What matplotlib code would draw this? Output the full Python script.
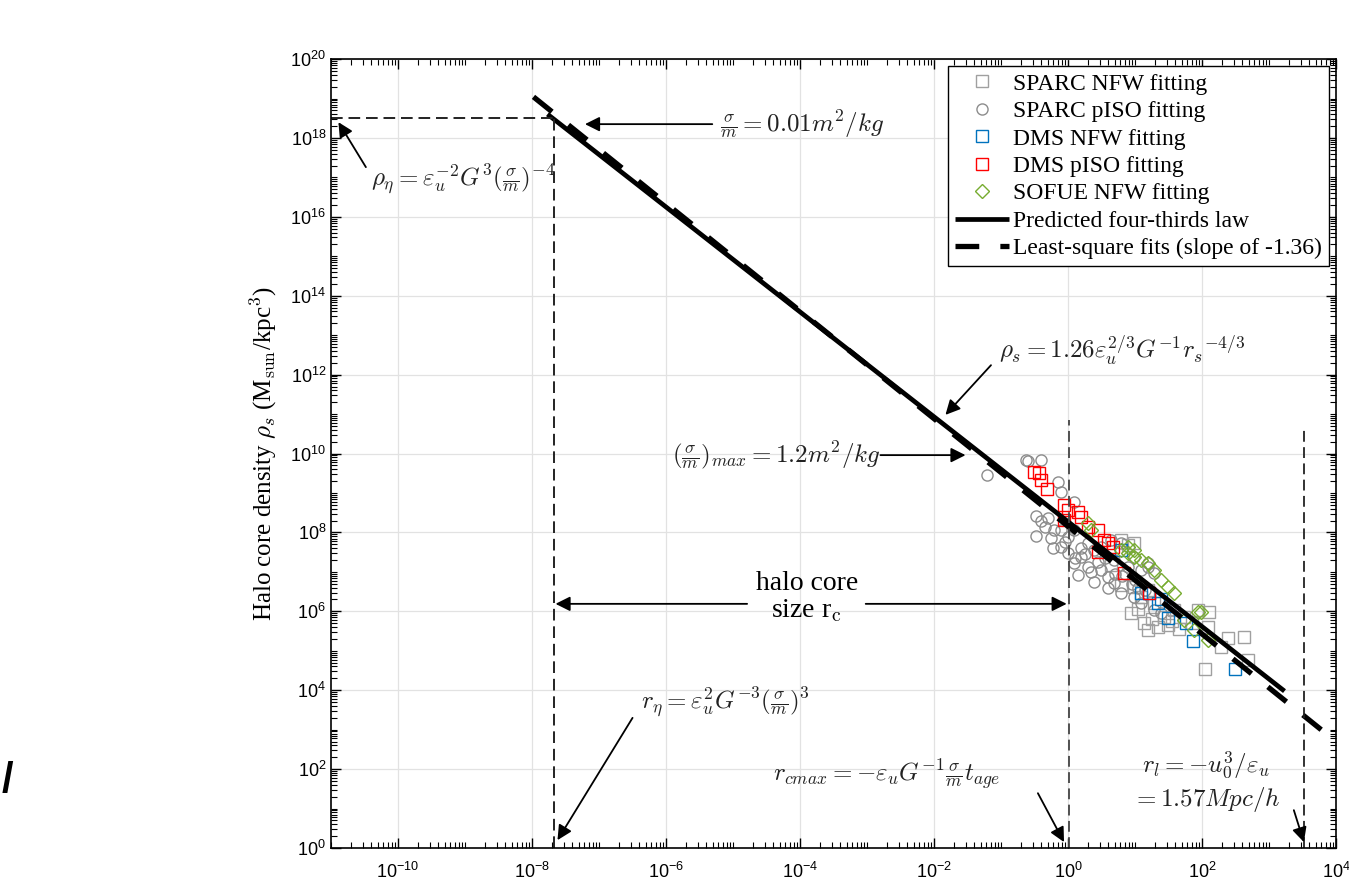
import numpy as np
import matplotlib.pyplot as plt
from matplotlib.ticker import LogLocator, FixedLocator, NullFormatter

plt.rcParams['font.family'] = ['Liberation Sans', 'DejaVu Sans']
plt.rcParams['mathtext.fontset'] = 'cm'
plt.rcParams['axes.unicode_minus'] = False

# data (log10 of r_s in kpc, log10 of rho_s in Msun/kpc^3)
sparc_piso_lr = [-0.63, -0.41, -0.60, -1.21, -0.15, -0.11, 0.09, -0.48, -0.30, -0.21,
                 -0.48, -0.23, -0.11, 0.00, 0.15, 0.39, 0.09, 0.30, 0.49, 0.59,
                 0.68, 0.79, 0.98, 0.49, 0.68, 0.89, 1.09, 1.19, 1.28, 0.98,
                 1.19, 0.64, 0.79, 1.09, 1.28, 1.39, 0.19, 0.30, 0.39, 0.00,
                 0.09, -0.11, -0.40, -0.35, -0.25, -0.05, 0.25, 0.55, 0.85, 1.00,
                 0.20, 0.45, 0.70, 0.95, 1.15, 0.35, 0.60, 0.80, 1.05, 0.10]
sparc_piso_lrho = [9.84, 9.84, 9.81, 9.46, 9.28, 9.02, 8.77, 8.42, 8.37, 8.06,
                   7.91, 7.60, 7.63, 7.48, 6.92, 6.74, 7.22, 7.12, 7.05, 6.87,
                   6.72, 6.46, 6.36, 7.63, 7.30, 7.12, 7.05, 7.12, 6.97, 7.38,
                   7.22, 7.81, 7.73, 6.21, 6.03, 5.96, 7.38, 7.73, 7.55, 7.88,
                   8.06, 8.06, 8.30, 8.15, 7.85, 7.75, 7.45, 7.35, 6.95, 6.80,
                   7.60, 7.25, 6.95, 6.70, 6.55, 7.00, 6.60, 6.90, 6.60, 7.35]

sparc_nfw_lr = [0.98, 0.94, 1.13, 1.19, 1.34, 1.49, 2.10, 1.94, 2.09, 2.28,
                2.39, 2.04, 2.68, 0.79, 0.89, 1.09, 1.28, 1.43, 1.58, 1.73,
                0.98, 1.19, 2.63, 0.79, 0.64, 1.05, 1.25, 1.55, 1.65, 1.85]
sparc_nfw_lrho = [7.73, 5.96, 5.70, 5.53, 5.60, 5.65, 5.98, 6.03, 5.60, 5.10,
                  5.32, 4.54, 4.77, 7.81, 7.68, 6.36, 6.21, 5.86, 6.03, 5.86,
                  6.62, 6.54, 5.35, 6.67, 7.17, 6.05, 5.80, 5.75, 5.55, 5.70]

dms_nfw_lr = [1.09, 1.34, 1.49, 1.76, 1.87, 2.49, 1.21, 0.79, 1.39]
dms_nfw_lrho = [6.46, 6.21, 5.83, 5.70, 5.25, 4.54, 6.46, 7.55, 6.31]

dms_piso_lr = [-0.51, -0.44, -0.41, -0.32, -0.06, 0.00, 0.15, 0.19, -0.06, 0.30,
               0.45, 0.54, 0.67, 0.45, 0.83, 1.21, 0.59]
dms_piso_lrho = [9.53, 9.51, 9.33, 9.10, 8.69, 8.57, 8.52, 8.39, 8.31, 8.14,
                 8.06, 7.81, 7.63, 7.50, 6.97, 6.46, 7.73]

sofue_lr = [0.30, 0.34, 0.79, 0.89, 0.98, 1.09, 1.19, 1.28, 1.39, 1.49,
            1.58, 1.73, 1.94, 1.99, 2.09, 1.88, 0.89, 0.98]
sofue_lrho = [8.24, 8.06, 7.55, 7.48, 7.38, 7.30, 7.22, 7.05, 6.79, 6.62,
              6.46, 5.78, 5.98, 5.98, 5.27, 5.53, 7.63, 7.55]

# line end points
law_r = [1.7e-8, 1.7e3]
law_rho = [4.0e18, 9.5e3]
fit_r = [1.05e-8, 6.0e3]
fit_rho = [1.1e19, 1.0e3]

r_eta, rho_eta = 2.1e-8, 3.2e18
r_cmax, r_l = 1.02, 3.3e3

fig = plt.figure(figsize=(13.49, 8.88), dpi=100)
ax = fig.add_axes([0.2454, 0.0450, 0.7450, 0.8885])

mk = dict(linestyle='none', markerfacecolor='none', markersize=8, markeredgewidth=1.0)
ax.plot(10**np.array(sparc_nfw_lr), 10**np.array(sparc_nfw_lrho), 's', color='#a0a0a0',
        label='SPARC NFW fitting', **mk)
ax.plot(10**np.array(sparc_piso_lr), 10**np.array(sparc_piso_lrho), 'o', color='#8c8c8c',
        label='SPARC pISO fitting', **mk)
ax.plot(10**np.array(dms_nfw_lr), 10**np.array(dms_nfw_lrho), 's', color='#0072BD',
        label='DMS NFW fitting', **mk)
ax.plot(10**np.array(dms_piso_lr), 10**np.array(dms_piso_lrho), 's', color='#ff0000',
        label='DMS pISO fitting', **mk)
ax.plot(10**np.array(sofue_lr), 10**np.array(sofue_lrho), 'D', color='#77AC30',
        label='SOFUE NFW fitting', linestyle='none', markerfacecolor='none',
        markersize=7, markeredgewidth=1.0)

ax.plot(law_r, law_rho, color='black', lw=3.4, solid_capstyle='butt',
        label='Predicted four-thirds law')
ax.plot(fit_r, fit_rho, color='black', lw=3.8, dashes=(4.5, 4), dash_capstyle='butt',
        label='Least-square fits (slope of -1.36)')

# guide lines
ax.plot([1e-11, r_eta], [rho_eta, rho_eta], color='#222222', lw=1.4, dashes=(6, 3))
ax.plot([r_eta, r_eta], [1, rho_eta], color='#222222', lw=1.4, dashes=(6, 3))
ax.plot([r_cmax, r_cmax], [1, 7e10], color='#444444', lw=1.3, dashes=(6, 3))
ax.plot([r_l, r_l], [1, 5e10], color='#222222', lw=1.3, dashes=(6, 3))

ax.set_xscale('log')
ax.set_yscale('log')
ax.set_xlim(1e-11, 1e4)
ax.set_ylim(1, 1e20)
ax.xaxis.set_major_locator(FixedLocator([10.0**k for k in range(-10, 5, 2)]))
ax.yaxis.set_major_locator(FixedLocator([10.0**k for k in range(0, 21, 2)]))
ax.xaxis.set_minor_locator(LogLocator(base=10, subs=np.arange(1, 10), numticks=100))
ax.yaxis.set_minor_locator(LogLocator(base=10, subs=np.arange(1, 10), numticks=100))
ax.xaxis.set_minor_formatter(NullFormatter())
ax.yaxis.set_minor_formatter(NullFormatter())
ax.tick_params(which='both', direction='in', top=True, right=True, labelsize=13)
ax.tick_params(which='major', length=7, width=1)
ax.tick_params(which='minor', length=4, width=0.8)
ax.tick_params(axis='x', pad=10)
ax.grid(True, which='major', color='#e2e2e2', lw=0.9)
ax.set_axisbelow(True)
for s in ax.spines.values():
    s.set_linewidth(1.2)

ax.set_ylabel(r'Halo core density $\rho_s$ (M$_{\rm sun}$/kpc$^3$)',
              family='Liberation Serif', fontsize=18, labelpad=8)
ax.set_xlabel(r'Halo core radius r$_s$ (kpc)', family='Liberation Serif',
              fontsize=17, labelpad=6, color='#888888')

leg = ax.legend(loc='upper right', prop={'family': 'Liberation Serif', 'size': 17},
                fancybox=False, edgecolor='black', framealpha=1, numpoints=1,
                handlelength=2.3, handletextpad=0.15, labelspacing=0.25,
                borderaxespad=0.3, borderpad=0.3)
leg.get_frame().set_linewidth(1.0)

arw = dict(arrowstyle='-|>', color='black', lw=1.3, mutation_scale=22,
           shrinkA=0, shrinkB=0)
eq = dict(fontsize=18, color='#222222')

ax.annotate('', xy=(10**-10.89, 10**18.40), xytext=(10**-10.48, 10**17.26), arrowprops=arw)
ax.text(10**-10.40, 10**16.93, r'$\rho_\eta = \varepsilon_u^{-2}G^3(\frac{\sigma}{m})^{-4}$',
        ha='left', va='center', **eq)

ax.annotate('', xy=(10**-7.21, 10**18.35), xytext=(10**-5.31, 10**18.35), arrowprops=arw)
ax.text(10**-5.19, 10**18.33, r'$\frac{\sigma}{m} = 0.01m^2/kg$', ha='left', va='center', **eq)

ax.annotate('', xy=(10**-1.83, 10**10.98), xytext=(10**-1.15, 10**12.24), arrowprops=arw)
ax.text(10**-1.03, 10**12.62, r'$\rho_s = 1.26\varepsilon_u^{2/3}G^{-1}{r_s}^{-4/3}$',
        ha='left', va='center', **eq)

ax.annotate('', xy=(10**-1.53, 10**9.96), xytext=(10**-2.80, 10**9.96), arrowprops=arw)
ax.text(10**-2.80, 10**9.96, r'$(\frac{\sigma}{m})_{max} = 1.2m^2/kg$', ha='right',
        va='center', **eq)

ax.annotate('', xy=(10**-7.65, 10**6.19), xytext=(10**-4.79, 10**6.19), arrowprops=arw)
ax.annotate('', xy=(10**-0.02, 10**6.19), xytext=(10**-3.02, 10**6.19), arrowprops=arw)
ax.text(10**-3.90, 10**6.36, 'halo core\nsize r$_\\mathrm{c}$', ha='center', va='center',
        family='Liberation Serif', fontsize=20, linespacing=1.05)

ax.annotate('', xy=(10**-7.62, 10**0.20), xytext=(10**-6.50, 10**3.30), arrowprops=arw)
ax.text(10**-6.38, 10**3.68, r'$r_\eta = \varepsilon_u^2G^{-3}(\frac{\sigma}{m})^3$',
        ha='left', va='center', **eq)

ax.annotate('', xy=(10**-0.06, 10**0.15), xytext=(10**-0.45, 10**1.39), arrowprops=arw)
ax.text(10**-4.41, 10**1.85, r'$r_{cmax} = -\varepsilon_uG^{-1}\frac{\sigma}{m}t_{age}$',
        ha='left', va='center', **eq)

ax.annotate('', xy=(10**3.52, 10**0.15), xytext=(10**3.37, 10**0.96), arrowprops=arw)
ax.text(10**2.06, 10**1.67, '$r_l = -u_0^3/\\varepsilon_u$\n$= 1.57Mpc/h$',
        ha='center', va='center', linespacing=1.2, **eq)

fig.text(0.001, 0.12, '/', fontsize=30, fontweight='bold', va='center', ha='left')

fig.savefig('out.png', dpi=100)
